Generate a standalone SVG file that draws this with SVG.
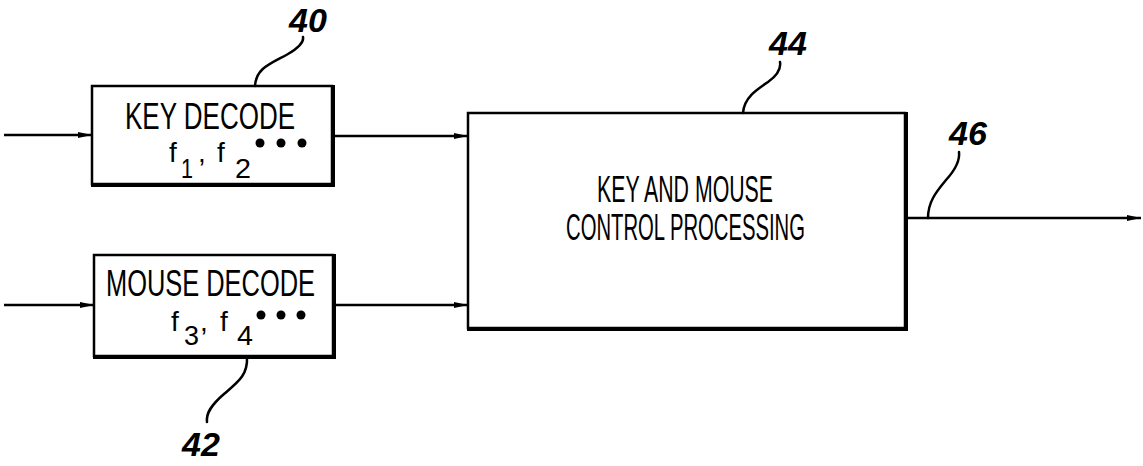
<svg xmlns="http://www.w3.org/2000/svg" width="1143" height="466" viewBox="0 0 1143 466">
<style>
.box{fill:#fff;stroke:#000;stroke-width:2.5}
.sh{fill:none;stroke:#000;stroke-width:4;stroke-linecap:square}
.t{font-family:"Liberation Sans",Arial,sans-serif;font-size:36px;fill:#000}
.f{font-family:"Liberation Sans",Arial,sans-serif;font-size:28px;fill:#000}
.sub{font-family:"Liberation Sans",Arial,sans-serif;font-size:27px;fill:#000}
.ref{font-family:"Liberation Sans",Arial,sans-serif;font-size:34px;font-weight:bold;font-style:italic;fill:#000}
.ln{fill:none;stroke:#000;stroke-width:2.5}
.ld{fill:none;stroke:#000;stroke-width:2.5;stroke-linecap:round}
</style>
<defs>
<marker id="ah" markerWidth="14" markerHeight="8" refX="14" refY="4" orient="auto" markerUnits="userSpaceOnUse">
<path d="M0,1 L14,4 L0,7 Z" fill="#000"/>
</marker>
</defs>
<rect width="1143" height="466" fill="#fff"/>
<g id="connectors">
<line class="ln" x1="4" y1="135" x2="92" y2="135" marker-end="url(#ah)"/>
<line class="ln" x1="332" y1="136" x2="468" y2="136" marker-end="url(#ah)"/>
<line class="ln" x1="4" y1="305" x2="94" y2="305" marker-end="url(#ah)"/>
<line class="ln" x1="333" y1="305" x2="468" y2="305" marker-end="url(#ah)"/>
<line class="ln" x1="905" y1="218" x2="1141" y2="218" marker-end="url(#ah)"/>
</g>
<g id="node40">
<rect class="box" x="92" y="86" width="240" height="98"/>
<polyline class="sh" points="333,87 333,185 93,185"/>
<text class="t" x="125" y="129" textLength="170" lengthAdjust="spacingAndGlyphs">KEY DECODE</text>
<text class="f" x="169" y="162">f</text>
<text class="sub" x="181" y="178" textLength="12" lengthAdjust="spacingAndGlyphs">1</text>
<text class="f" x="198" y="162">,</text>
<text class="f" x="217" y="162">f</text>
<text class="sub" x="235" y="178" textLength="16" lengthAdjust="spacingAndGlyphs">2</text>
<circle cx="260" cy="143" r="4.5"/>
<circle cx="281" cy="143" r="4.5"/>
<circle cx="302" cy="143" r="4.5"/>
</g>
<g id="node42">
<rect class="box" x="94" y="255" width="239" height="101"/>
<polyline class="sh" points="334,256 334,357 95,357"/>
<text class="t" x="106" y="296" textLength="209" lengthAdjust="spacingAndGlyphs">MOUSE DECODE</text>
<text class="f" x="171" y="331">f</text>
<text class="sub" x="184" y="345" textLength="15" lengthAdjust="spacingAndGlyphs">3</text>
<text class="f" x="200" y="331">,</text>
<text class="f" x="220" y="331">f</text>
<text class="sub" x="237" y="345" textLength="16" lengthAdjust="spacingAndGlyphs">4</text>
<circle cx="261" cy="315" r="4.5"/>
<circle cx="281" cy="315" r="4.5"/>
<circle cx="301" cy="315" r="4.5"/>
</g>
<g id="node44">
<rect class="box" x="468" y="113" width="437" height="215"/>
<polyline class="sh" points="906,114 906,329 469,329"/>
<text class="t" x="597" y="202" textLength="176" lengthAdjust="spacingAndGlyphs">KEY AND MOUSE</text>
<text class="t" x="566" y="240" textLength="239" lengthAdjust="spacingAndGlyphs">CONTROL PROCESSING</text>
</g>
<g id="ref40">
<path class="ld" d="M255,86 C256,68 270,64 288,54 C300,47 304,42 303,37"/>
<text class="ref" x="289" y="32">40</text>
</g>
<g id="ref42">
<path class="ld" d="M247,357 C248,375 238,382 224,394 C210,406 206,414 207,422"/>
<text class="ref" x="182" y="456">42</text>
</g>
<g id="ref44">
<path class="ld" d="M743,113 C744,98 756,90 768,82 C778,75 781,68 780,62"/>
<text class="ref" x="769" y="55">44</text>
</g>
<g id="ref46">
<path class="ld" d="M928,218 C928,202 936,192 946,180 C956,169 960,160 959,152"/>
<text class="ref" x="949" y="145">46</text>
</g>
</svg>
